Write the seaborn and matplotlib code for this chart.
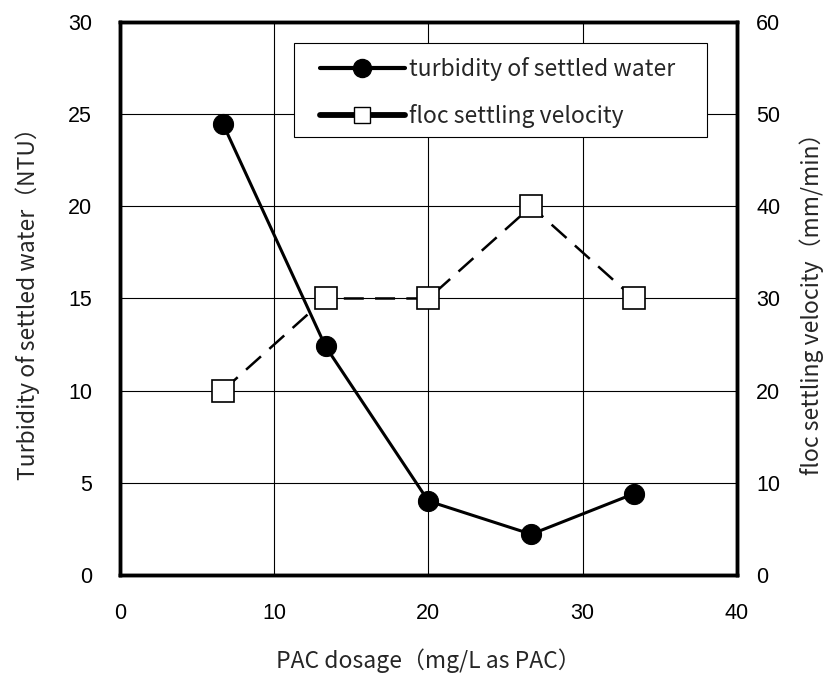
import matplotlib
matplotlib.use("Agg")
import matplotlib.pyplot as plt
import seaborn as sns
import pandas as pd
from matplotlib.lines import Line2D
from matplotlib.patches import Rectangle

pac_dosage = [6.67, 13.33, 20.0, 26.67, 33.33]
turbidity = [24.5, 12.4, 4.0, 2.2, 4.4]
settling_velocity = [20, 30, 30, 40, 30]
x_ticks = [0, 10, 20, 30, 40]
left_ticks = [0, 5, 10, 15, 20, 25, 30]
right_ticks = [0, 10, 20, 30, 40, 50, 60]

df = pd.DataFrame({"dose": pac_dosage, "turb": turbidity, "vel": settling_velocity})

sns.set_theme(style="white")
plt.rcParams["font.family"] = ["Liberation Sans", "DejaVu Sans"]
cjk = ["Noto Sans CJK JP", "DejaVu Sans"]

fig = plt.figure(figsize=(8.27, 6.73), dpi=100)
ax = fig.add_axes([0.145, 0.146, 0.746, 0.821])
ax2 = ax.twinx()

sns.lineplot(data=df, x="dose", y="turb", ax=ax, color="black", lw=2.2,
             marker="o", markersize=14.5, markerfacecolor="black",
             markeredgecolor="black", zorder=5)
sns.lineplot(data=df, x="dose", y="vel", ax=ax2, color="black", lw=1.8,
             dashes=False, marker="s", markersize=16, markerfacecolor="white",
             markeredgecolor="black", markeredgewidth=1.2, zorder=5)
ax2.lines[0].set_dashes([8, 4.5])

ax.set_xlim(0, 40)
ax.set_ylim(0, 30)
ax2.set_ylim(0, 60)
ax.set_xticks(x_ticks)
ax.set_yticks(left_ticks)
ax2.set_yticks(right_ticks)
ax.grid(True, color="black", lw=0.8)
ax.set_axisbelow(True)
for a in (ax, ax2):
    a.tick_params(length=0, labelsize=15.5, colors="black")
    for s in a.spines.values():
        s.set_color("black")
        s.set_linewidth(2.5)
ax.tick_params(axis="y", pad=20)
ax2.tick_params(axis="y", pad=14)
ax.tick_params(axis="x", pad=20)

ax.set_xlabel("PAC dosage（mg/L as PAC）", fontsize=16.5, family=cjk, labelpad=18)
ax.set_ylabel("Turbidity of settled water（NTU）", fontsize=16.5, family=cjk, labelpad=20)
ax2.set_ylabel("floc settling velocity（mm/min）", fontsize=16.5, family=cjk, labelpad=14)

# legend frame
frame = Rectangle((0.282, 0.792), 0.669, 0.170, transform=ax2.transAxes,
                  facecolor="white", edgecolor="black", lw=0.8, zorder=6)
ax2.add_patch(frame)

h1 = Line2D([], [], color="black", lw=3.0, marker="o", markersize=13)
h2 = Line2D([], [], color="black", lw=4.2, marker="s", markersize=12,
            markerfacecolor="white", markeredgecolor="black")
leg = ax2.legend([h1, h2], ["turbidity of settled water", "floc settling velocity"],
                 loc="upper left", bbox_to_anchor=(0.324, 0.937),
                 prop={"family": cjk, "size": 16.5}, frameon=False,
                 handlelength=3.7, borderpad=0, labelspacing=1.0,
                 handletextpad=0.2, borderaxespad=0)
leg.set_zorder(7)

fig.savefig("out.png", dpi=100)
